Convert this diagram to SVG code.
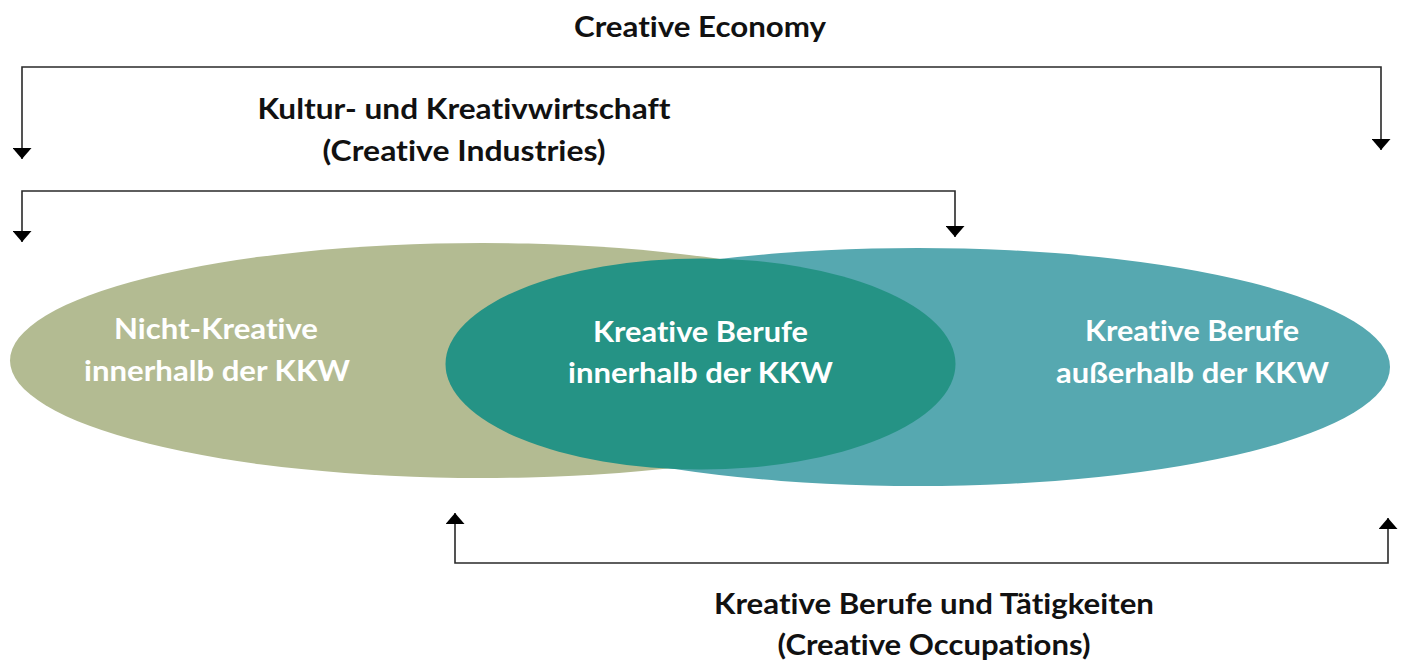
<svg xmlns="http://www.w3.org/2000/svg" width="1405" height="664" viewBox="0 0 1405 664">
<defs>
<style>
.t{font-family:Lato,"Open Sans","Liberation Sans",sans-serif;font-weight:700;font-size:28px;text-anchor:middle;font-variant-ligatures:none;font-feature-settings:"liga" 0,"clig" 0}
.dk{fill:#111}
.wh{fill:#ffffff}
.c{fill:none;stroke:#2a2a2a;stroke-width:1.6}
</style>
<marker id="ah" viewBox="0 0 11 19" refX="11" refY="9.5" markerWidth="11" markerHeight="19" markerUnits="userSpaceOnUse" orient="auto-start-reverse">
<path d="M0,0 L11,9.5 L0,19 Z" fill="#000"/>
</marker>
</defs>
<rect width="1405" height="664" fill="#fff"/>
<g id="titles">
<text class="t dk" x="700" y="37" textLength="252" lengthAdjust="spacingAndGlyphs">Creative Economy</text>
<text class="t dk" x="464" y="119" textLength="413" lengthAdjust="spacingAndGlyphs">Kultur- und Kreativwirtschaft</text>
<text class="t dk" x="464" y="161" textLength="283" lengthAdjust="spacingAndGlyphs">(Creative Industries)</text>
<text class="t dk" x="934" y="614" textLength="440" lengthAdjust="spacingAndGlyphs">Kreative Berufe und Tätigkeiten</text>
<text class="t dk" x="934" y="655" textLength="313" lengthAdjust="spacingAndGlyphs">(Creative Occupations)</text>
</g>
<g id="connectors">
<path class="c" d="M22,159 V67 H1381 V150" marker-start="url(#ah)" marker-end="url(#ah)"/>
<path class="c" d="M22,242 V191 H955 V237" marker-start="url(#ah)" marker-end="url(#ah)"/>
<path class="c" d="M455,513 V563 H1388 V518" marker-start="url(#ah)" marker-end="url(#ah)"/>
</g>
<g id="node-nicht-kreative">
<ellipse cx="482" cy="360.5" rx="472" ry="117.5" fill="#B3BB92"/>
</g>
<g id="node-ausserhalb">
<ellipse cx="918" cy="367" rx="472" ry="119" fill="#56A8B0"/>
</g>
<g id="node-innerhalb">
<ellipse cx="700.5" cy="364" rx="255" ry="105.5" fill="#259385"/>
</g>
<g id="labels">
<text class="t wh" x="216" y="339" textLength="204" lengthAdjust="spacingAndGlyphs">Nicht-Kreative</text>
<text class="t wh" x="217" y="381" textLength="266" lengthAdjust="spacingAndGlyphs">innerhalb der KKW</text>
<text class="t wh" x="700.5" y="342" textLength="215" lengthAdjust="spacingAndGlyphs">Kreative Berufe</text>
<text class="t wh" x="700.5" y="383" textLength="265" lengthAdjust="spacingAndGlyphs">innerhalb der KKW</text>
<text class="t wh" x="1192" y="341" textLength="214" lengthAdjust="spacingAndGlyphs">Kreative Berufe</text>
<text class="t wh" x="1192.5" y="383" textLength="273" lengthAdjust="spacingAndGlyphs">außerhalb der KKW</text>
</g>
</svg>
